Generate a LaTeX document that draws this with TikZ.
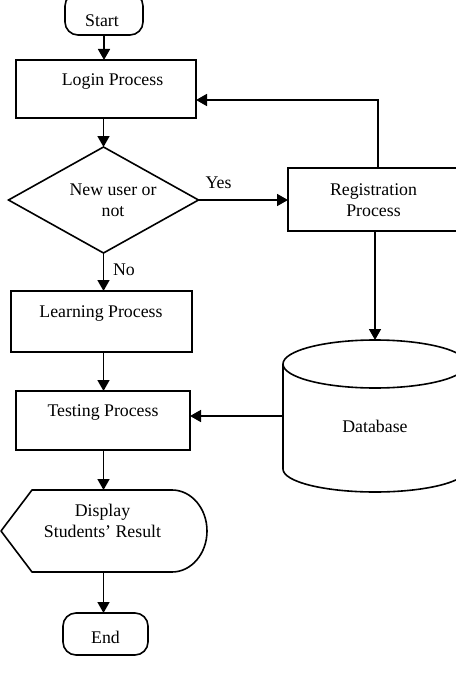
\documentclass[tikz,border=0pt]{standalone}
\usepackage{fontspec}
\setmainfont{Liberation Serif}
\usetikzlibrary{arrows.meta,shapes.geometric}
\begin{document}
\begin{tikzpicture}[x=1pt,y=-1pt,
  every node/.style={inner sep=0pt, outer sep=0pt},
  lbl/.style={anchor=base, font=\fontsize{17.8}{20}\selectfont},
  box/.style={draw, line width=1.6pt, rectangle},
  term/.style={draw, line width=1.6pt, rounded corners=13pt},
  flow/.style={line width=1.6pt, -{Triangle[length=11pt,width=12pt]}},
  plain/.style={line width=1.6pt, line join=round}]
\path[use as bounding box] (0,0) rectangle (455,682);
% shapes
\node[term, minimum width=78pt, minimum height=42pt] (start) at (104,14) {};
\node[box, minimum width=180pt, minimum height=58pt] (login) at (106,89) {};
\node[draw, diamond, line width=1.6pt, aspect=1.8, minimum width=190pt, minimum height=106pt] (q) at (103.5,200) {};
\node[box, minimum width=170pt, minimum height=63pt] (reg) at (373,199.5) {};
\node[box, minimum width=181pt, minimum height=61pt] (learn) at (101.5,321.5) {};
\node[box, minimum width=174pt, minimum height=59pt] (test) at (103,420.5) {};
\node[minimum width=184pt, minimum height=152pt] (db) at (375,416) {};
\draw[plain] (375,364) ellipse[x radius=92, y radius=24];
\draw[plain] (283,364) -- (283,469) arc[start angle=180, end angle=0, x radius=92, y radius=23] -- (467,364);
\node[minimum width=207pt, minimum height=82pt] (disp) at (104,531) {};
\draw[plain] (32,490) -- (172,490) arc[start angle=-90, end angle=90, x radius=35, y radius=41] -- (32,572) -- (1,531) -- cycle;
\node[term, minimum width=85pt, minimum height=42pt] (end) at (105.5,634) {};
% texts
\node[lbl] (startT) at (102,27) {Start};
\node[lbl] (loginT) at (112.5,86) {Login Process};
\node[lbl] (qT1) at (113,195) {New user or};
\node[lbl] (qT2) at (113,216) {not};
\node[lbl] (yes) at (218.5,188) {Yes};
\node[lbl] (regT1) at (373.5,195) {Registration};
\node[lbl] (regT2) at (373.5,216) {Process};
\node[lbl] (no) at (124,275) {No};
\node[lbl] (learnT) at (101,317) {Learning Process};
\node[lbl] (testT) at (103,416) {Testing Process};
\node[lbl] (dbT) at (375,432) {Database};
\node[lbl] (dispT1) at (102.5,516) {Display};
\node[lbl] (dispT2) at (102.5,537) {Students’ Result};
\node[lbl] (endT) at (105.5,643) {End};
% connectors
\coordinate (loop) at (378,100);
\draw[flow] (start.south) -- (start.south |- login.north);
\draw[flow] (q.north |- login.south) -- (q.north);
\draw[flow] (q.east) -- (q.east -| reg.west);
\draw[flow] (reg.north -| loop) -- (loop) -- (loop -| login.east);
\draw[flow] (q.south) -- (q.south |- learn.north);
\draw[flow] (q.south |- learn.south) -- (q.south |- test.north);
\draw[flow] (reg.south -| db.north) -- (db.north);
\draw[flow] (db.west) -- (db.west -| test.east);
\draw[flow] (q.south |- test.south) -- (q.south |- disp.north);
\draw[flow] (q.south |- disp.south) -- (q.south |- end.north);
\end{tikzpicture}
\end{document}
